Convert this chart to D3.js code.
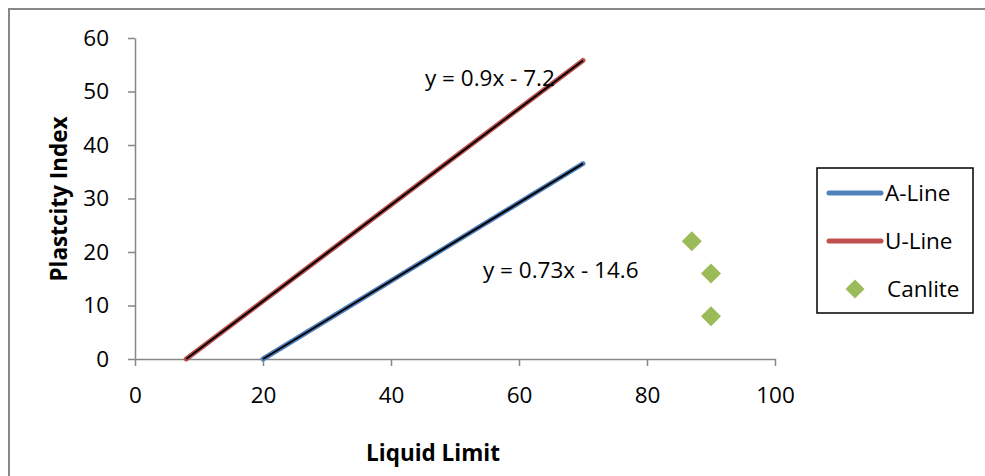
<!DOCTYPE html>
<html>
<head>
<meta charset="utf-8">
<script src="https://cdn.jsdelivr.net/npm/d3@7"></script>
<style>
  html, body { margin: 0; padding: 0; background: #fff; }
  svg { display: block; }
  text { font-family: "Open Sans", "Liberation Sans", sans-serif; fill: #000; }
</style>
</head>
<body>
<svg id="chart" width="985" height="476"></svg>
<script>
// ---- data ----
const xTicks = [0, 20, 40, 60, 80, 100];
const yTicks = [0, 10, 20, 30, 40, 50, 60];

const aLineX = [20, 70];
const aLineY = [0, 36.5];
const uLineX = [8, 70];
const uLineY = [0, 55.8];

const canliteX = [87, 90, 90];
const canliteY = [22, 16, 8];

const aTrend = { slope: 0.73, intercept: -14.6, label: "y = 0.73x - 14.6" };
const uTrend = { slope: 0.9, intercept: -7.2, label: "y = 0.9x - 7.2" };

const seriesNames = ["A-Line", "U-Line", "Canlite"];
const seriesColors = ["#4F81BD", "#C0504D", "#9BBB59"];

// ---- drawing ----
const svg = d3.select("#chart");
const x = d3.scaleLinear().domain([0, 100]).range([135, 775]);
const y = d3.scaleLinear().domain([0, 60]).range([359, 38]);

// outer chart border
svg.append("rect")
  .attr("x", 9).attr("y", 9).attr("width", 1100).attr("height", 600)
  .attr("fill", "none").attr("stroke", "#878787").attr("stroke-width", 2);

const axisColor = "#878787";
const fontSize = 22.5;

// x axis
const gx = svg.append("g").attr("transform", `translate(0,${y(0)})`)
  .call(d3.axisBottom(x).tickValues(xTicks).tickSize(7).tickPadding(21).tickSizeOuter(0));
// y axis
const gy = svg.append("g").attr("transform", `translate(${x(0)},0)`)
  .call(d3.axisLeft(y).tickValues(yTicks).tickSize(7).tickPadding(19).tickSizeOuter(0));

[gx, gy].forEach(g => {
  g.select(".domain").attr("stroke", axisColor).attr("stroke-width", 1.5);
  g.selectAll(".tick line").attr("stroke", axisColor).attr("stroke-width", 1.5);
  g.selectAll(".tick text").attr("font-size", fontSize)
    .attr("font-family", "'Open Sans', sans-serif").attr("fill", "#000");
});

// axis titles
svg.append("text")
  .attr("x", 433).attr("y", 461)
  .attr("text-anchor", "middle")
  .attr("font-size", fontSize).attr("font-weight", "bold")
  .text("Liquid Limit");
svg.append("text")
  .attr("transform", `translate(67,199) rotate(-90)`)
  .attr("text-anchor", "middle")
  .attr("font-size", fontSize).attr("font-weight", "bold")
  .text("Plastcity Index");

const line = d3.line().x(d => x(d[0])).y(d => y(d[1]));

// series lines
const aData = aLineX.map((v, i) => [v, aLineY[i]]);
const uData = uLineX.map((v, i) => [v, uLineY[i]]);
[[aData, seriesColors[0]], [uData, seriesColors[1]]].forEach(([d, c]) => {
  svg.append("path").datum(d).attr("d", line)
    .attr("fill", "none").attr("stroke", c).attr("stroke-width", 5)
    .attr("stroke-linecap", "round");
});

// trendlines (black)
[[aTrend, aLineX], [uTrend, uLineX]].forEach(([t, xs]) => {
  const ext = d3.extent(xs);
  const d = ext.map(v => [v, t.slope * v + t.intercept]);
  svg.append("path").datum(d).attr("d", line)
    .attr("fill", "none").attr("stroke", "#000").attr("stroke-width", 2);
});

// trendline labels
svg.append("text").attr("x", 425).attr("y", 86)
  .attr("font-size", fontSize).text(uTrend.label);
svg.append("text").attr("x", 483).attr("y", 278)
  .attr("font-size", fontSize).text(aTrend.label);

// scatter
const diamond = d3.symbol().type(d3.symbolDiamond2 || d3.symbolDiamond).size(200);
const cData = canliteX.map((v, i) => [v, canliteY[i]]);
function diamondPath(r) {
  return `M0,${-r}L${r},0L0,${r}L${-r},0Z`;
}
svg.selectAll(".pt").data(cData).enter().append("path")
  .attr("class", "pt")
  .attr("transform", d => `translate(${x(d[0])},${y(d[1])})`)
  .attr("d", diamondPath(10))
  .attr("fill", seriesColors[2]);

// legend
const lg = svg.append("g");
lg.append("rect").attr("x", 817).attr("y", 168).attr("width", 156).attr("height", 145)
  .attr("fill", "#fff").attr("stroke", "#000").attr("stroke-width", 1.5);
const rows = [193, 241, 289];
seriesNames.forEach((name, i) => {
  if (i < 2) {
    lg.append("line").attr("x1", 829).attr("x2", 881)
      .attr("y1", rows[i]).attr("y2", rows[i])
      .attr("stroke", seriesColors[i]).attr("stroke-width", 5).attr("stroke-linecap", "round");
  } else {
    lg.append("path").attr("transform", `translate(855,${rows[i]})`)
      .attr("d", diamondPath(9.5)).attr("fill", seriesColors[i]);
  }
  lg.append("text").attr("x", i < 2 ? 885 : 887).attr("y", rows[i])
    .attr("dy", "0.35em").attr("font-size", fontSize).text(name);
});
</script>
</body>
</html>
